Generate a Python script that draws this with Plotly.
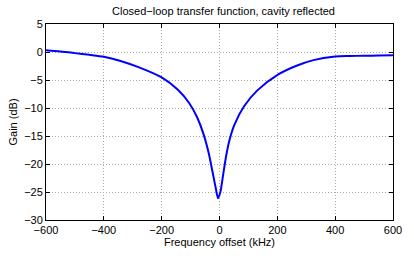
import plotly.graph_objects as go

freq_khz = [-600, -550, -500, -450, -400, -345, -278, -200, -144, -105, -77, -55,
            -38, -24.5, -13.4, -5, 3, 12.4, 23.5, 34.6, 51.4, 85, 130, 202, 264,
            325, 400, 450, 500, 550, 600]
gain_db = [0.3, 0.08, -0.2, -0.5, -0.85, -1.55, -2.75, -4.55, -6.75, -9.1, -11.7, -14.7,
           -17.9, -21.3, -24.2, -26.1, -25.0, -22.0, -18.4, -15.7, -13.0, -9.7, -6.9,
           -4.05, -2.5, -1.45, -0.82, -0.72, -0.67, -0.63, -0.6]

x_ticks = [-600, -400, -200, 0, 200, 400, 600]
y_ticks = [-30, -25, -20, -15, -10, -5, 0, 5]

fig = go.Figure()
fig.add_trace(go.Scatter(x=freq_khz, y=gain_db, mode="lines",
                         line=dict(color="#0000FF", width=2, shape="spline", smoothing=0.8),
                         showlegend=False))

axis_common = dict(showline=True, linecolor="black", linewidth=1, mirror="ticks",
                   ticks="inside", ticklen=4, tickcolor="black",
                   showgrid=True, gridcolor="#aaaaaa", griddash="1px,2px", gridwidth=1,
                   zeroline=False, tickfont=dict(size=11, color="black"),
                   ticklabeloverflow="allow")

fig.update_layout(
    width=414, height=258,
    margin=dict(l=44, r=12, t=24, b=27),
    paper_bgcolor="white", plot_bgcolor="white",
    font=dict(family="Liberation Sans, Arial, sans-serif", color="black"),
    title=dict(text="Closed\u2212loop transfer function, cavity reflected",
               x=0.54, xanchor="center", y=0.955, yanchor="middle",
               font=dict(size=11)),
    xaxis=dict(range=[-600, 600], tickvals=x_ticks,
               title=dict(text="Frequency offset (kHz)", font=dict(size=11), standoff=2),
               **axis_common),
    yaxis=dict(range=[-30, 5], tickvals=y_ticks,
               title=dict(text="Gain (dB)", font=dict(size=11), standoff=4),
               **axis_common),
)

fig.write_html("out.html", config={"displayModeBar": False},
               post_script="document.body.style.margin='0';document.body.style.padding='0';")
